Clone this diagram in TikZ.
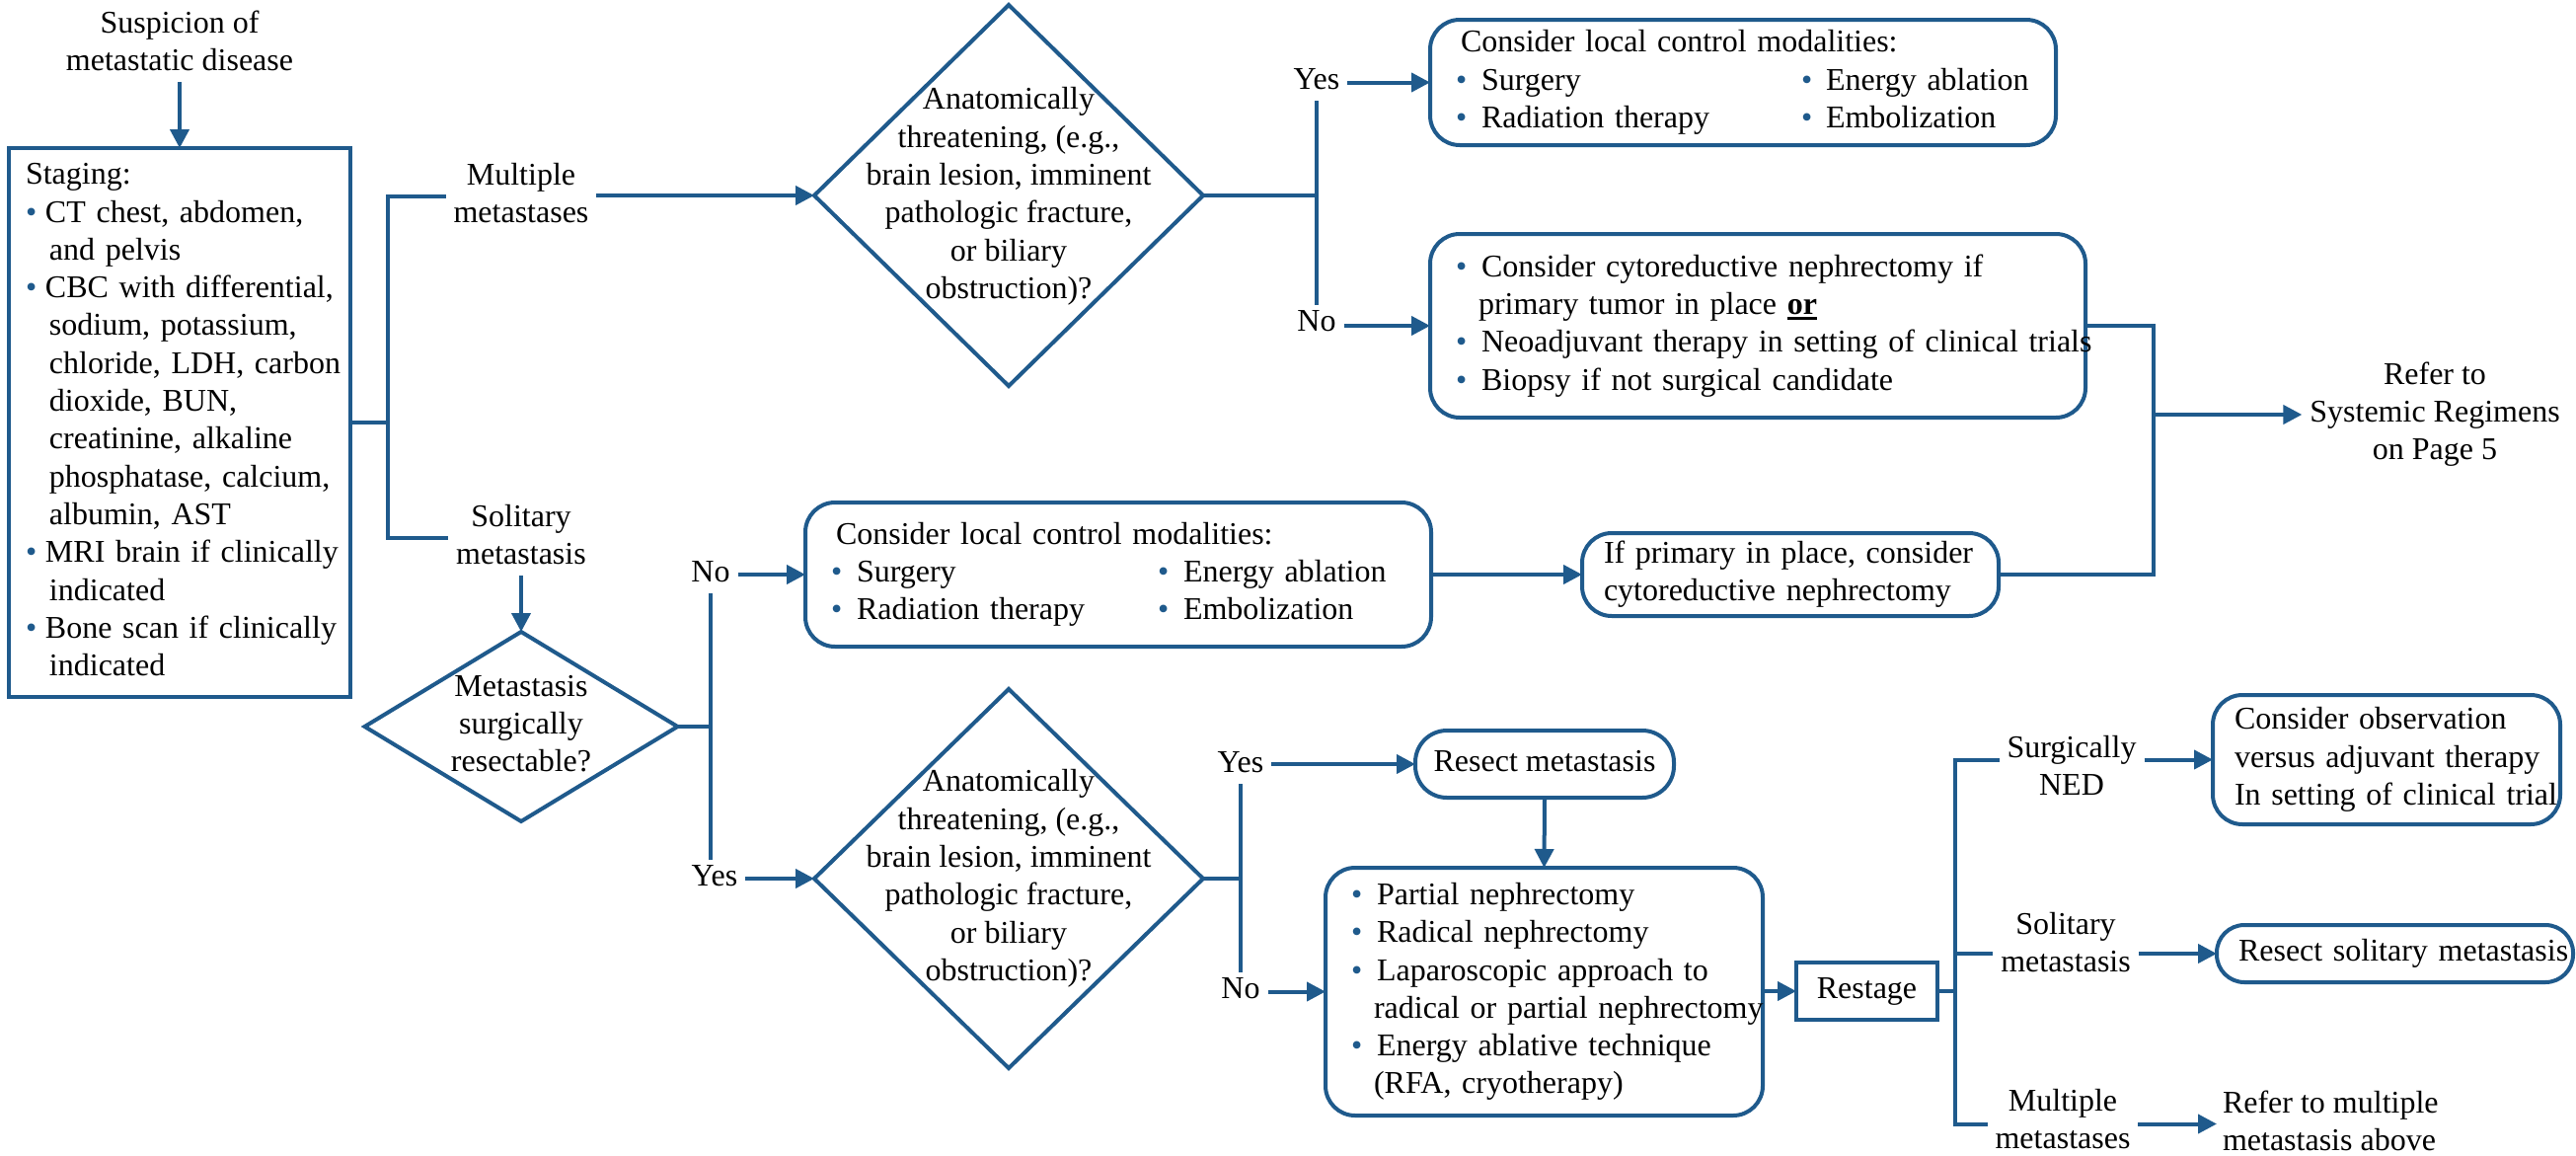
\documentclass[tikz,border=0pt]{standalone}
\usepackage{fontspec}
\setmainfont{Liberation Serif}
\usetikzlibrary{arrows.meta,shapes.geometric,calc}

\definecolor{flowblue}{RGB}{31,90,140}

% bullet with a fixed-width slot, and a matching hanging indent
\newcommand{\bi}[1][26pt]{\makebox[#1][l]{\textcolor{flowblue}{\textbullet}}}
\newcommand{\ci}[1][22pt]{\hspace*{#1}}
% centred / left-aligned stacks of lines
\newcommand{\ctab}[1]{\begin{tabular}{@{}c@{}}#1\end{tabular}}
\newcommand{\ltab}[1]{\noindent\begin{tabular}{@{}l@{}}#1\end{tabular}}
% bold word with a heavy underline
\newcommand{\ulbf}[1]{\setbox0\hbox{\textbf{#1}}\rlap{\rule[-5pt]{\wd0}{2.5pt}}\box0}

\begin{document}
\begin{tikzpicture}[x=1pt,y=-1pt,
  font=\fontsize{32}{38.3}\selectfont,
  line/.style={draw=flowblue, line width=4pt},
  arr/.style={line, -{Triangle[length=19pt,width=19pt]}},
  rbox/.style={draw=flowblue, line width=4pt, rounded corners=30pt, fill=white,
    inner ysep=0pt, outer sep=0pt, align=left, anchor=north west},
  sbox/.style={draw=flowblue, line width=4pt, fill=white,
    inner sep=0pt, outer sep=0pt, align=left, anchor=north west},
  lbl/.style={inner ysep=0pt, inner xsep=8pt, outer sep=0pt, align=center},
  diam/.style={diamond, draw=flowblue, line width=4pt, inner sep=0pt, outer sep=0pt}]

\fill[white] (0,0) rectangle (2610,1170);
\useasboundingbox (0,0) rectangle (2610,1170);

% ---------- entry and staging ----------
\node[lbl] (susp) at (182,44.5) {\ctab{Suspicion of\\metastatic disease}};

\node[sbox, minimum width=346pt, minimum height=556pt, text width=312pt,
      inner xsep=17pt] (staging) at (9,150) {\ltab{%
  Staging:\\
  \bi[20pt]CT chest, abdomen,\\
  \ci[24pt]and pelvis\\
  \bi[20pt]CBC with differential,\\
  \ci[24pt]sodium, potassium,\\
  \ci[24pt]chloride, LDH, carbon\\
  \ci[24pt]dioxide, BUN,\\
  \ci[24pt]creatinine, alkaline\\
  \ci[24pt]phosphatase, calcium,\\
  \ci[24pt]albumin, AST\\
  \bi[20pt]MRI brain if clinically\\
  \ci[24pt]indicated\\
  \bi[20pt]Bone scan if clinically\\
  \ci[24pt]indicated}};

\node[lbl] (mult1) at (528,198.5) {\ctab{Multiple\\metastases}};
\node[lbl] (sol1) at (528,545) {\ctab{Solitary\\metastasis}};

% ---------- decisions ----------
\node[diam, minimum width=394pt, minimum height=386pt] (d1) at (1022,198) {};
\node[lbl] (d1t) at (1022,199) {\ctab{Anatomically\\threatening, (e.g.,\\brain lesion, imminent\\pathologic fracture,\\or biliary\\obstruction)?}};

\node[diam, minimum width=317pt, minimum height=192pt] (dsol) at (528,736) {};
\node[lbl] (dsolt) at (528,736) {\ctab{Metastasis\\surgically\\resectable?}};

\node[diam, minimum width=394pt, minimum height=384pt] (d2) at (1022,890) {};
\node[lbl] (d2t) at (1022,890) {\ctab{Anatomically\\threatening, (e.g.,\\brain lesion, imminent\\pathologic fracture,\\or biliary\\obstruction)?}};

% ---------- yes / no labels ----------
\node[lbl] (yes1) at (1334,83) {\ctab{Yes}};
\node[lbl] (no1) at (1334,328) {\ctab{No}};
\node[lbl] (no2) at (720,582) {\ctab{No}};
\node[lbl] (yes2) at (724,890) {\ctab{Yes}};
\node[lbl] (yes3) at (1257,775) {\ctab{Yes}};
\node[lbl] (no3) at (1257,1004) {\ctab{No}};

% ---------- action boxes ----------
\node[rbox, minimum width=634pt, minimum height=127pt, text width=572pt,
      inner xsep=31pt] (loc1) at (1449,20) {\ltab{%
  Consider local control modalities:\\
  \hspace*{-5pt}\makebox[350pt][l]{\bi Surgery}\bi[25pt]Energy ablation\\
  \hspace*{-5pt}\makebox[350pt][l]{\bi Radiation therapy}\bi[25pt]Embolization}};

\node[rbox, minimum width=664pt, minimum height=186pt, text width=602pt,
      inner xsep=31pt] (cyto) at (1449,237) {\ltab{%
  \hspace*{-5pt}\bi Consider cytoreductive nephrectomy if\\
  \ci[18pt]primary tumor in place \ulbf{or}\\
  \hspace*{-5pt}\bi Neoadjuvant therapy in setting of clinical trials\\
  \hspace*{-5pt}\bi Biopsy if not surgical candidate}};

\node[rbox, minimum width=634pt, minimum height=146pt, text width=572pt,
      inner xsep=31pt] (loc2) at (816,509) {\ltab{%
  Consider local control modalities:\\
  \hspace*{-5pt}\makebox[331pt][l]{\bi Surgery}\bi[26pt]Energy ablation\\
  \hspace*{-5pt}\makebox[331pt][l]{\bi Radiation therapy}\bi[26pt]Embolization}};

\node[rbox, minimum width=422pt, minimum height=84pt, text width=378pt,
      inner xsep=22pt] (prim) at (1603,540) {\ltab{%
  If primary in place, consider\\
  cytoreductive nephrectomy}};

\node[lbl] (refsys) at (2467,420) {\ctab{Refer to\\Systemic Regimens\\on Page 5}};

\node[rbox, rounded corners=32pt, inner xsep=0pt, minimum width=262pt,
      minimum height=68pt] (resect) at (1434,740) {\ctab{Resect metastasis}};

\node[rbox, minimum width=443pt, minimum height=251pt, text width=391pt,
      inner xsep=26pt] (partial) at (1343,879) {\ltab{%
  \bi Partial nephrectomy\\
  \bi Radical nephrectomy\\
  \bi Laparoscopic approach to\\
  \ci[23pt]radical or partial nephrectomy\\
  \bi Energy ablative technique\\
  \ci[23pt](RFA, cryotherapy)}};

\node[sbox, align=center, minimum width=143pt, minimum height=58pt]
      (restage) at (1820,975) {\ctab{Restage}};

\node[lbl] (sned) at (2099,778.5) {\ctab{Surgically\\NED}};
\node[lbl] (ssol) at (2093,957.5) {\ctab{Solitary\\metastasis}};
\node[lbl] (smult) at (2090,1136.5) {\ctab{Multiple\\metastases}};

\node[rbox, minimum width=352pt, minimum height=131pt, text width=308pt,
      inner xsep=22pt] (obs) at (2242,704) {\ltab{%
  Consider observation\\
  versus adjuvant therapy\\
  In setting of clinical trial}};

\node[rbox, rounded corners=28pt, minimum width=361pt, minimum height=58pt,
      text width=317pt, inner xsep=22pt] (rsol) at (2246,937) {\ltab{%
  Resect solitary metastasis}};

\node[lbl, anchor=west, inner xsep=6pt] (refm) at (2246,1138.5)
      {\ltab{Refer to multiple\\metastasis above}};

% ---------- junction points ----------
\coordinate (b1) at (393,428);
\coordinate (b5) at (1981,1004);
\coordinate (b6) at (2182,420);

% ---------- connectors ----------
\draw[arr] (susp.south) -- (staging.north);

\draw[line] (staging.east) -- (b1);
\draw[line] (mult1.west) -| (b1) |- (sol1.west);
\draw[arr] (mult1.east |- d1.west) -- (d1.west);
\draw[arr] (sol1.south) -- (dsol.north);

\draw[line] (d1.east) -- (d1.east -| yes1.south);
\draw[line] (yes1.south) -- (no1.north);
\draw[arr] (yes1.east |- loc1.west) -- (loc1.west);
\draw[arr] (no1.east |- cyto.west) -- (cyto.west);

\draw[line] (dsol.east) -- (dsol.east -| no2.south);
\draw[line] (no2.south) -- (no2.south |- yes2.north);
\draw[arr] (no2.east |- loc2.west) -- (loc2.west);
\draw[arr] (yes2.east |- d2.west) -- (d2.west);

\draw[arr] (loc2.east) -- (prim.west);
\draw[line] (cyto.east) -| (b6) |- (prim.east);
\draw[arr] (b6) -- (refsys.west);

\draw[line] (d2.east) -- (d2.east -| yes3.south);
\draw[line] (yes3.south) -- (no3.north);
\draw[arr] (yes3.east |- resect.west) -- (resect.west);
\draw[arr] (no3.east |- partial.west) -- (partial.west);
\draw[arr] (resect.south) -- (partial.north);
\draw[arr] (partial.east |- restage.west) -- (restage.west);

\draw[line] (restage.east) -- (b5);
\draw[line] (sned.west |- obs.west) -| (b5) |- (smult.west |- refm.west);
\draw[line] (b5 |- rsol.west) -- (ssol.west |- rsol.west);
\draw[arr] (sned.east |- obs.west) -- (obs.west);
\draw[arr] (ssol.east |- rsol.west) -- (rsol.west);
\draw[arr] (smult.east |- refm.west) -- (refm.west);

\end{tikzpicture}
\end{document}
